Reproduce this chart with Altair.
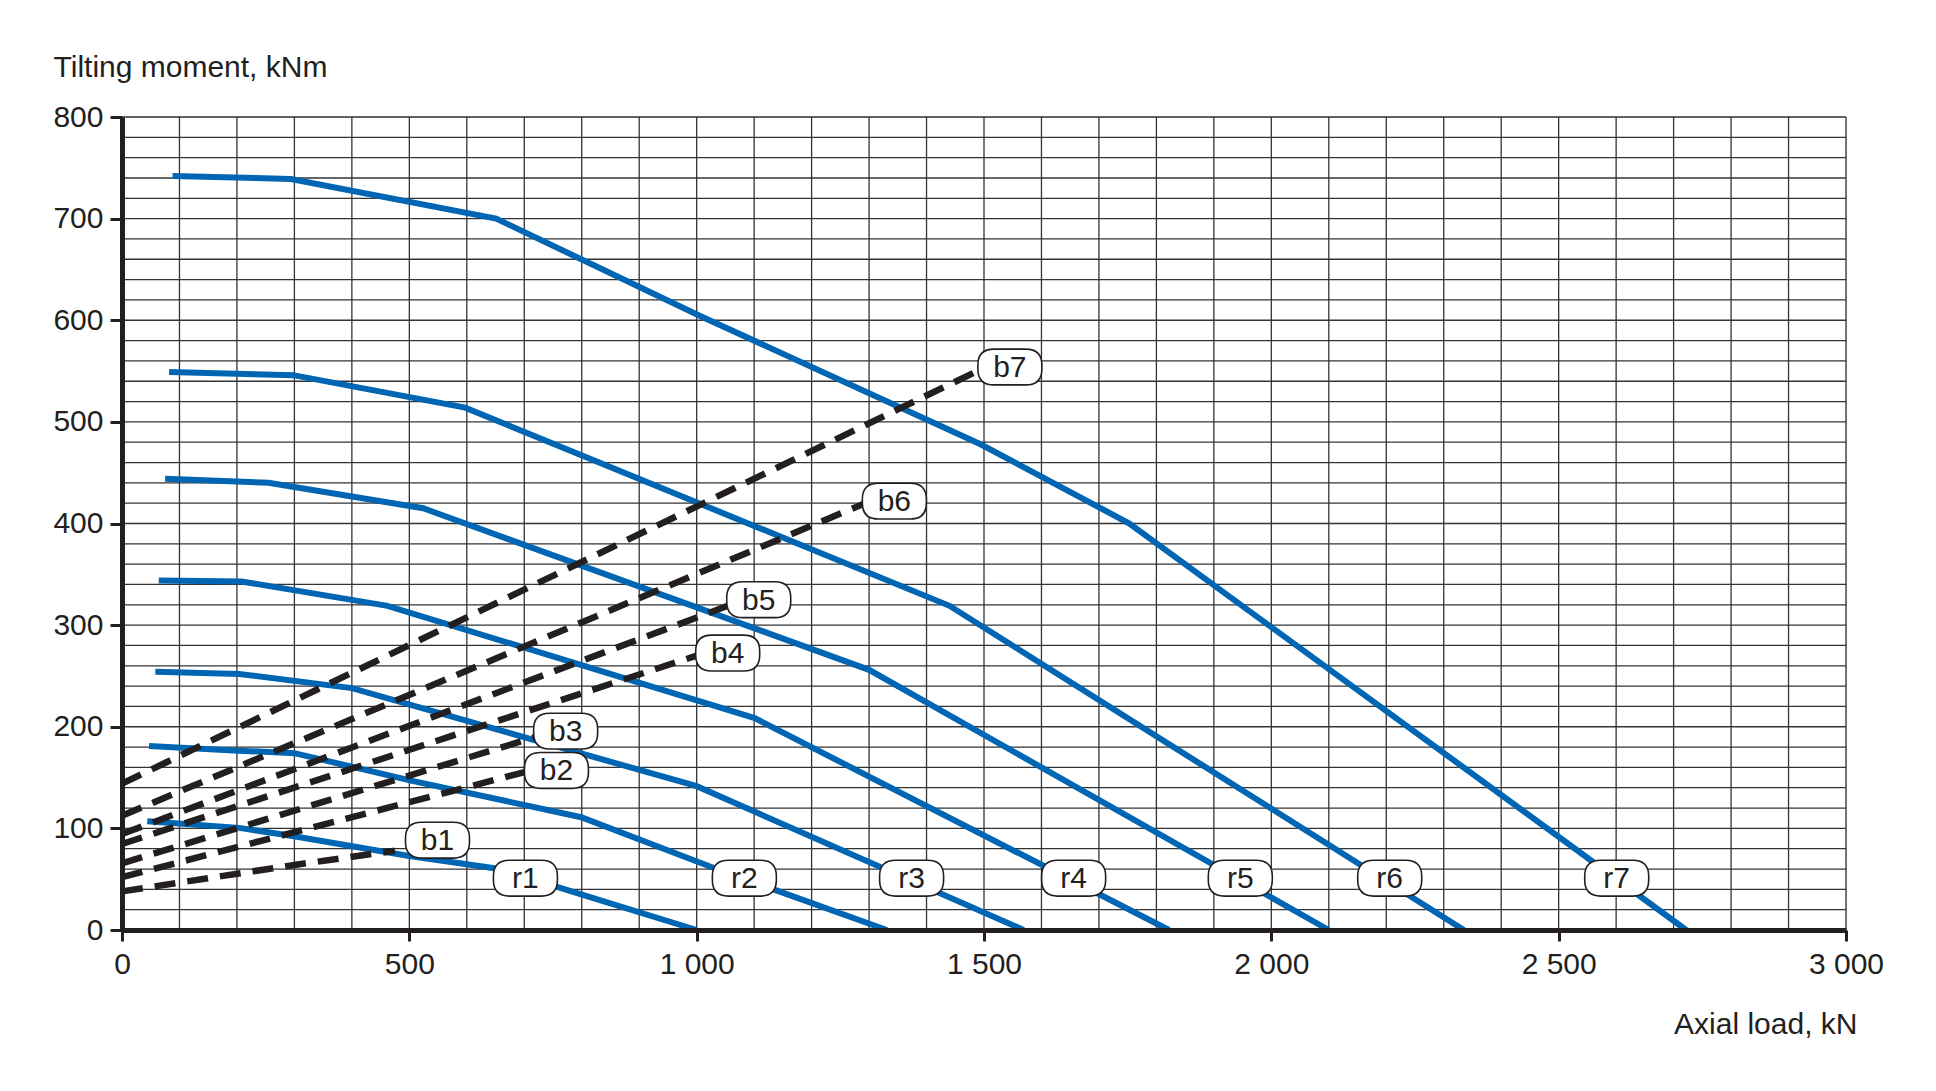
import altair as alt
import pandas as pd

# ---------------- data ----------------
# Blue rolling-element curves r1..r7: axial load (kN) / tilting moment (kNm)
r1_x = [44, 204, 302, 497, 657, 799, 1000]
r1_y = [107, 100.5, 92, 73, 60, 35, 0]
r2_x = [47, 202, 300, 503, 799, 1030, 1331]
r2_y = [181, 176.5, 174, 147, 111, 61, 0]
r3_x = [58, 204, 400, 1000, 1569]
r3_y = [254, 252, 238, 141.5, 0]
r4_x = [64, 208, 462, 1101, 1822]
r4_y = [344, 343, 319, 208.5, 0]
r5_x = [75, 255, 524, 1300, 2100]
r5_y = [444, 440, 415, 256, 0]
r6_x = [82, 298, 597, 1440, 2335]
r6_y = [549, 546, 514, 319, 0]
r7_x = [88, 294, 651, 1007, 1494, 1753, 2722]
r7_y = [742, 739, 700, 604, 478, 400, 0]

# Dashed bolt curves b1..b7
b1_x = [0, 300, 475]
b1_y = [38, 64, 78]
b2_x = [0, 705]
b2_y = [52, 156]
b3_x = [0, 720]
b3_y = [65.6, 190]
b4_x = [0, 1000]
b4_y = [84.6, 270]
b5_x = [0, 1054]
b5_y = [94.4, 319]
b6_x = [0, 1291]
b6_y = [112.5, 419.5]
b7_x = [0, 1491]
b7_y = [144, 550.7]

# Curve labels
label_names = ["b1", "b2", "b3", "b4", "b5", "b6", "b7",
               "r1", "r2", "r3", "r4", "r5", "r6", "r7"]
label_x = [549, 756, 772, 1054, 1108, 1344, 1545,
           702, 1083, 1374, 1656, 1946, 2206, 2601]
label_y = [88.4, 157, 195.7, 272.5, 325, 422, 554,
           51, 51, 51, 51, 51, 51, 51]

# Axis ticks / grid
x_ticks = [0, 500, 1000, 1500, 2000, 2500, 3000]
y_ticks = [0, 100, 200, 300, 400, 500, 600, 700, 800]
x_grid = list(range(0, 3001, 100))
y_grid = list(range(0, 801, 20))

# ---------------- build tables ----------------
r_series = {"r1": (r1_x, r1_y), "r2": (r2_x, r2_y), "r3": (r3_x, r3_y),
            "r4": (r4_x, r4_y), "r5": (r5_x, r5_y), "r6": (r6_x, r6_y),
            "r7": (r7_x, r7_y)}
b_series = {"b1": (b1_x, b1_y), "b2": (b2_x, b2_y), "b3": (b3_x, b3_y),
            "b4": (b4_x, b4_y), "b5": (b5_x, b5_y), "b6": (b6_x, b6_y),
            "b7": (b7_x, b7_y)}


def to_df(series):
    rows = []
    for name, (xs, ys) in series.items():
        for i, (xv, yv) in enumerate(zip(xs, ys)):
            rows.append({"series": name, "x": xv, "y": yv, "i": i})
    return pd.DataFrame(rows)


r_df = to_df(r_series)
b_df = to_df(b_series)
lab_df = pd.DataFrame({"name": label_names, "x": label_x, "y": label_y})
xg_df = pd.DataFrame({"x": x_grid})
yg_df = pd.DataFrame({"y": y_grid})

FONT = "Liberation Sans"
INK = "#231f20"
BLUE = "#0066b3"

x_axis = alt.Axis(
    values=x_ticks, grid=False, zindex=1,
    labelExpr="replace(format(datum.value, ','), ',', ' ')",
    labelFont=FONT, labelFontSize=30, labelColor=INK, labelPadding=8,
    labelFlush=False, labelOverlap=False,
    tickSize=11, tickWidth=3, tickColor=INK,
    domainWidth=5, domainColor=INK,
    title="Axial load, kN", titleFont=FONT, titleFontSize=30,
    titleFontWeight="normal", titleColor=INK,
    titleX=1735, titleY=103, titleAlign="right", titleBaseline="alphabetic",
)
y_axis = alt.Axis(
    values=y_ticks, grid=False, zindex=1,
    labelFont=FONT, labelFontSize=30, labelColor=INK, labelPadding=7,
    labelFlush=False, labelOverlap=False,
    tickSize=12, tickWidth=3, tickColor=INK,
    domainWidth=5, domainColor=INK,
    title="Tilting moment, kNm", titleFont=FONT, titleFontSize=30,
    titleFontWeight="normal", titleColor=INK, titleAngle=0,
    titleX=-69, titleY=-41, titleAlign="left", titleBaseline="alphabetic",
)
xs = alt.Scale(domain=[0, 3000], nice=False, zero=False)
ys = alt.Scale(domain=[0, 800], nice=False, zero=False)
X = alt.X("x:Q", scale=xs, axis=x_axis)
Y = alt.Y("y:Q", scale=ys, axis=y_axis)

grid_x = alt.Chart(xg_df).mark_rule(color="#333333", strokeWidth=1.3).encode(x=X)
grid_y = alt.Chart(yg_df).mark_rule(color="#333333", strokeWidth=1.3).encode(y=Y)

r_lines = alt.Chart(r_df).mark_line(color=BLUE, strokeWidth=6).encode(
    x=X, y=Y, detail="series:N", order="i:Q")
b_lines = alt.Chart(b_df).mark_line(color=INK, strokeWidth=6.5, strokeDash=[21, 12]).encode(
    x=X, y=Y, detail="series:N", order="i:Q")

box_path = ("M -0.5 -0.56 L 0.5 -0.56 Q 1 -0.56 1 -0.06 L 1 0.06 "
            "Q 1 0.56 0.5 0.56 L -0.5 0.56 Q -1 0.56 -1 0.06 "
            "L -1 -0.06 Q -1 -0.56 -0.5 -0.56 Z")
boxes = alt.Chart(lab_df).mark_point(
    shape=box_path, size=64 * 64, filled=True, fill="white", fillOpacity=1,
    stroke=INK, strokeWidth=1.6, opacity=1).encode(x=X, y=Y)
texts = alt.Chart(lab_df).mark_text(
    font=FONT, fontSize=30, color=INK, align="center", baseline="middle", dy=1
).encode(x=X, y=Y, text="name:N")

chart = alt.layer(grid_x, grid_y, r_lines, b_lines, boxes, texts).properties(
    width=1724, height=813,
    autosize=alt.AutoSizeParams(type="none"),
    padding={"left": 114, "top": 109, "right": 80, "bottom": 140},
).configure_view(stroke=None).configure(background="white")

chart.save("out.html", embed_options={"renderer": "svg", "actions": False})
